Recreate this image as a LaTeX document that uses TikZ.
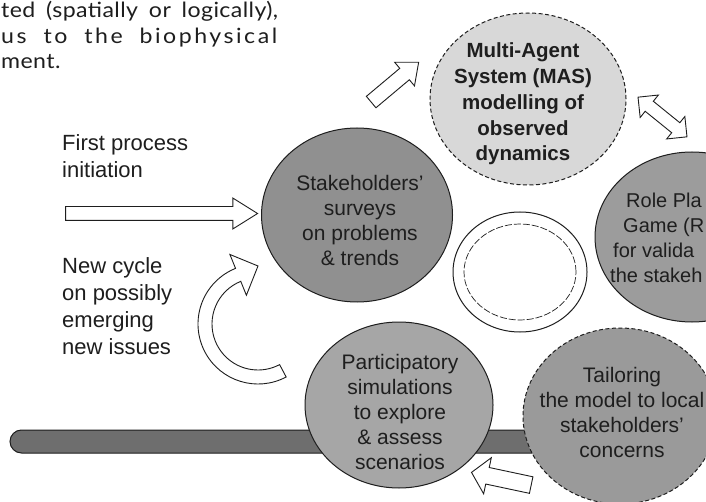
\documentclass[tikz,border=0pt]{standalone}
\usepackage{fontspec}
\setmainfont{Liberation Sans}
\newfontfamily\paperfont[FakeStretch=1.1,LetterSpace=2]{Lato}
\newfontfamily\paperwidefont[FakeStretch=1.1,LetterSpace=12]{Lato}
\usetikzlibrary{shapes.geometric,shapes.arrows}
\definecolor{inkc}{HTML}{1E1E1E}
\definecolor{stakec}{HTML}{909090}
\definecolor{masc}{HTML}{D8D8D8}
\definecolor{rpc}{HTML}{9C9C9C}
\definecolor{partc}{HTML}{A6A6A6}
\definecolor{tailc}{HTML}{9A9A9A}
\definecolor{barc}{HTML}{6E6E6E}
\begin{document}
\begin{tikzpicture}[x=1pt,y=-1pt,
  disc/.style={ellipse, draw=inkc, line width=1pt, inner sep=0pt},
  dashdisc/.style={disc, dash pattern=on 4pt off 2.5pt},
  disctext/.style={align=center, text=inkc, inner sep=0pt, font=\fontsize{21}{25}\selectfont},
  labeltext/.style={align=left, text=inkc, inner sep=0pt, anchor=west, font=\fontsize{22}{27}\selectfont},
  papertext/.style={text=inkc, inner sep=0pt, anchor=base west, font=\paperfont\fontsize{21}{27}\selectfont},
  blockarrow/.style={single arrow, draw=inkc, fill=white, line width=0.9pt, inner xsep=0pt, minimum width=0pt},
  twoarrow/.style={double arrow, draw=inkc, fill=white, line width=0.9pt, inner xsep=0pt, minimum width=0pt}]
\useasboundingbox (0,0) rectangle (706,502);
\clip (0,0) rectangle (706,502);
\fill[white] (0,0) rectangle (706,502);

% paragraph fragment at the top
\node[papertext] (p1) at (1,18) {\makebox[277pt][s]{ted (spatially or logically),}};
\node[papertext, font=\paperwidefont\fontsize{21}{27}\selectfont] (p2) at (1,44)
  {\makebox[276pt][s]{us to the biophysical}};
\node[papertext] (p3) at (1,69) {ment.};

% horizontal bar behind the lower discs
\node[rectangle, rounded corners=11.5pt, draw=inkc, line width=1pt, fill=barc,
      minimum width=560pt, minimum height=23pt, inner sep=0pt] (bar) at (290,441.5) {};

% discs
\node[disc, fill=stakec, minimum width=191pt, minimum height=174pt] (stake) at (357,215) {};
\node[dashdisc, fill=masc, minimum width=196pt, minimum height=172pt] (mas) at (528,99) {};
\node[disc, fill=rpc, minimum width=194pt, minimum height=170pt] (rpg) at (692,237) {};
\node[disc, fill=white, minimum width=134pt, minimum height=120pt] (ring) at (520,272) {};
\node[ellipse, draw=inkc, line width=0.7pt, dash pattern=on 7pt off 2pt, inner sep=0pt,
      minimum width=112pt, minimum height=96pt] (ringin) at (ring.center) {};
\node[disc, fill=partc, minimum width=188pt, minimum height=166pt] (part) at (399,405) {};
\node[dashdisc, fill=tailc, minimum width=194pt, minimum height=176pt] (tail) at (620,416) {};

% disc texts
\node[disctext] (staketext) at (360,220) {Stakeholders'\\surveys\\on problems\\\& trends};
\node[disctext, font=\bfseries\fontsize{20.5}{25.8}\selectfont] (mastext) at (523,104)
  {Multi-Agent\\System (MAS)\\modelling of\\observed\\dynamics};
\node[disctext, align=left, anchor=west, font=\fontsize{20}{25}\selectfont] (rptext) at (610,237.5)
  {\hspace*{16pt}Role Pla\\\hspace*{13pt}Game (R\\\hspace*{3pt}for valida\\the stakeh};
\node[disctext] (parttext) at (400,412) {Participatory\\simulations\\to explore\\\& assess\\scenarios};
\node[disctext] (tailtext) at (622,412.5) {Tailoring\\the model to local\\stakeholders'\\concerns};

% side labels
\node[labeltext] (firstlabel) at (62,156) {First process\\initiation};
\node[labeltext] (cyclelabel) at (62,306) {New cycle\\on possibly\\emerging\\new issues};

% block arrows
\node[blockarrow, minimum height=192pt, inner ysep=6.5pt, single arrow head extend=8.5pt,
      single arrow tip angle=64] (firstarrow) at (156,213.5) {};
\node[blockarrow, minimum height=62pt, inner ysep=7pt, single arrow head extend=8pt,
      single arrow tip angle=80, rotate=40] (toMAS) at (391.5,85) {};
\node[twoarrow, minimum height=63pt, inner ysep=6pt, double arrow head extend=8pt,
      double arrow tip angle=90, rotate=-39] (MASRPG) at (662.5,117) {};
\node[blockarrow, minimum height=61pt, inner ysep=8pt, single arrow head extend=10pt,
      single arrow tip angle=97, rotate=168] (toPart) at (505,479.5) {};

% curved arrow (new cycle)
\coordinate (cc) at (258,324);
\coordinate (ctip) at (258,266);
\draw[inkc, fill=white, line width=0.9pt]
  ([shift={(62:60)}]cc) arc[start angle=62, end angle=248, radius=60]
  -- ([shift={(248:75)}]cc) -- (ctip) -- ([shift={(248:31)}]cc)
  -- ([shift={(248:46)}]cc) arc[start angle=248, end angle=62, radius=46] -- cycle;
\end{tikzpicture}
\end{document}
